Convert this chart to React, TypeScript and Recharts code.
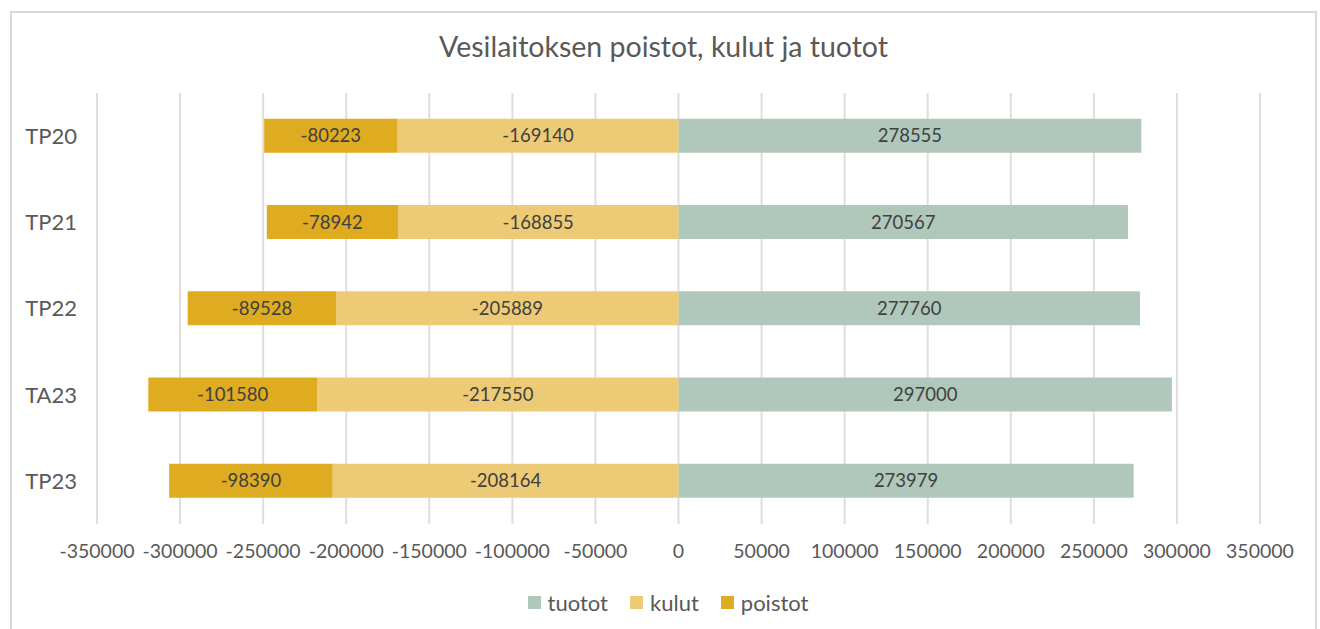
import { BarChart, Bar, XAxis, YAxis, CartesianGrid, Legend, LabelList } from 'recharts'

const categories = ['TP20', 'TP21', 'TP22', 'TA23', 'TP23']
const tuotot = [278555, 270567, 277760, 297000, 273979]
const kulut = [-169140, -168855, -205889, -217550, -208164]
const poistot = [-80223, -78942, -89528, -101580, -98390]
const xTicks = [-350000, -300000, -250000, -200000, -150000, -100000, -50000, 0, 50000, 100000, 150000, 200000, 250000, 300000, 350000]

const series = [
  { key: 'tuotot', name: 'tuotot', color: '#b0c8bc' },
  { key: 'kulut', name: 'kulut', color: '#edcb76' },
  { key: 'poistot', name: 'poistot', color: '#dfab20' },
]

const data = categories.map((c, i) => ({ name: c, tuotot: tuotot[i], kulut: kulut[i], poistot: poistot[i] }))

const FONT = 'Lato, "Open Sans", sans-serif'

const LegendContent = () => (
  <div style={{ display: 'flex', justifyContent: 'center', alignItems: 'center', height: 26, fontFamily: FONT, fontSize: 22, color: '#595959', paddingLeft: 76 }}>
    {series.map(s => (
      <span key={s.key} style={{ display: 'inline-flex', alignItems: 'center', margin: '0 11px' }}>
        <span style={{ width: 13, height: 13, background: s.color, display: 'inline-block', marginRight: 7 }} />
        {s.name}
      </span>
    ))}
  </div>
)

export default function App() {
  return (
    <div style={{ position: 'absolute', left: 0, top: 0, width: 1320, height: 629, background: '#fff', overflow: 'hidden' }}>
      <div style={{ position: 'absolute', left: 10, top: 11, width: 1303, height: 640, border: '2px solid #d9d9d9' }} />
      <div style={{ position: 'absolute', left: 10, width: 1307, top: 29, textAlign: 'center', fontFamily: FONT, fontSize: 28.5, color: '#595959' }}>
        Vesilaitoksen poistot, kulut ja tuotot
      </div>
      <div style={{ position: 'absolute', left: 0, top: 0 }}>
        <BarChart width={1320} height={629} data={data} layout="vertical" stackOffset="sign"
          margin={{ top: 93, right: 60, left: 0, bottom: 14 }} barCategoryGap="30%">
          <CartesianGrid horizontal={false} stroke="#dedede" strokeWidth={2} />
          <XAxis type="number" domain={[-350000, 350000]} ticks={xTicks} interval={0} height={65}
            tickLine={false} axisLine={false} tickMargin={14}
            tick={{ fontSize: 19.5, fill: '#595959', fontFamily: FONT }} />
          <YAxis type="category" dataKey="name" width={97} tickLine={false} axisLine={false} tickMargin={14}
            tick={{ fontSize: 22, fill: '#595959', fontFamily: FONT }} />
          <Legend verticalAlign="bottom" content={<LegendContent />} />
          {series.map(s => (
            <Bar key={s.key} dataKey={s.key} name={s.name} stackId="a" fill={s.color} isAnimationActive={false}>
              <LabelList dataKey={s.key} position="center" fill="#404040" fontSize={18.5} fontFamily={FONT} />
            </Bar>
          ))}
        </BarChart>
      </div>
    </div>
  )
}
